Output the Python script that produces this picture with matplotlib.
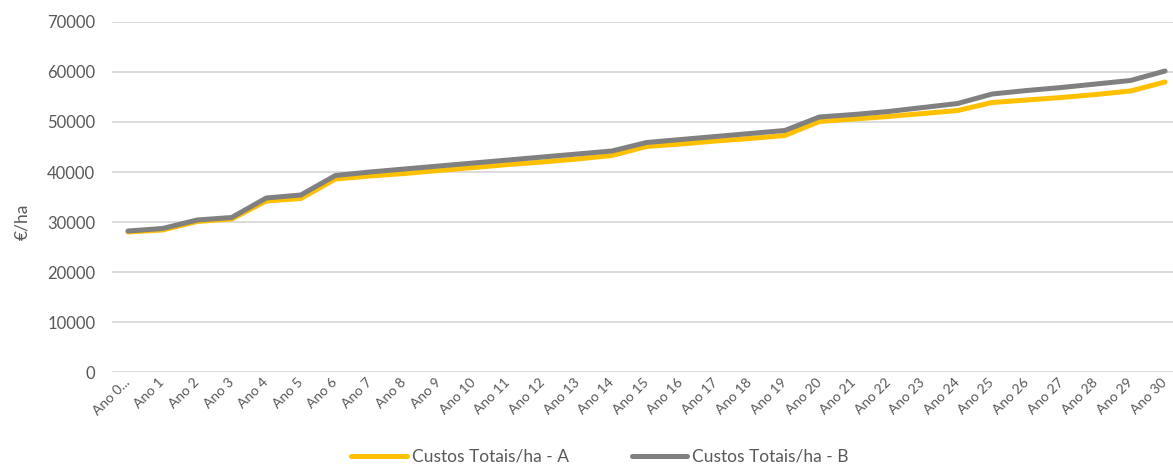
import matplotlib
matplotlib.use("Agg")
import matplotlib.pyplot as plt
import matplotlib.transforms as mtransforms

# =====================================================
# DATA
# =====================================================

anos = ["Ano 0..."] + ["Ano %d" % i for i in range(1, 31)]

custos_a = [
    28000, 28400, 30100, 30600, 34200, 34700, 38600, 39200,
    39700, 40300, 40900, 41500, 42000, 42600, 43300, 45100,
    45600, 46200, 46700, 47300, 50100, 50600, 51100, 51700,
    52300, 53900, 54400, 54900, 55500, 56200, 58000
]

custos_b = [
    28200, 28700, 30400, 30900, 34800, 35400, 39300, 40000,
    40600, 41200, 41800, 42400, 43000, 43600, 44200, 45900,
    46500, 47100, 47700, 48300, 51000, 51500, 52100, 52900,
    53700, 55600, 56300, 56900, 57600, 58300, 60200
]

yticks = [0, 10000, 20000, 30000, 40000, 50000, 60000, 70000]

# =====================================================
# STYLE
# =====================================================

plt.rcParams['font.family'] = ['Lato', 'DejaVu Sans']

cor_texto = '#595959'
cor_grelha = '#D9D9D9'

fig = plt.figure(figsize=(11.73, 4.65), dpi=100)
ax = fig.add_axes([112 / 1173, 1 - 372 / 465, 1 - 112 / 1173, 350 / 465])

x = list(range(len(anos)))

ax.plot(x, custos_a, color='#FFC000', linewidth=3.6,
        solid_capstyle='round', solid_joinstyle='round',
        label='Custos Totais/ha - A', zorder=3)
ax.plot(x, custos_b, color='#808080', linewidth=3.6,
        solid_capstyle='round', solid_joinstyle='round',
        label='Custos Totais/ha - B', zorder=4)

# =====================================================
# AXES
# =====================================================

ax.set_ylim(0, 70000)
ax.set_xlim(-0.463, 30.23)

ax.set_yticks(yticks)
ax.set_yticklabels([str(v) for v in yticks], fontsize=12, color=cor_texto)
ax.yaxis.grid(True, color=cor_grelha, linewidth=1.3)
ax.set_axisbelow(True)

ax.set_xticks(x)
ax.set_xticklabels(anos, fontsize=10, color=cor_texto,
                   rotation=45, ha='right', va='center',
                   rotation_mode='anchor')
offset = mtransforms.ScaledTranslation(24 / 100, -4 / 100, fig.dpi_scale_trans)
for lbl in ax.get_xticklabels():
    lbl.set_transform(lbl.get_transform() + offset)

ax.tick_params(axis='both', length=0)
ax.tick_params(axis='y', pad=12)
ax.tick_params(axis='x', pad=6)

for s in ax.spines.values():
    s.set_visible(False)

ax.set_ylabel('€/ha', fontsize=12.5, color=cor_texto)
ax.yaxis.set_label_coords(-0.077, 0.43)

# =====================================================
# LEGEND
# =====================================================

ax.legend(loc='lower center', bbox_to_anchor=(0.46, -0.31),
          ncol=2, frameon=False, fontsize=12.5, labelcolor=cor_texto,
          handlelength=3.2, handletextpad=0.3, columnspacing=3.6)

plt.savefig("out.png", dpi=100)
